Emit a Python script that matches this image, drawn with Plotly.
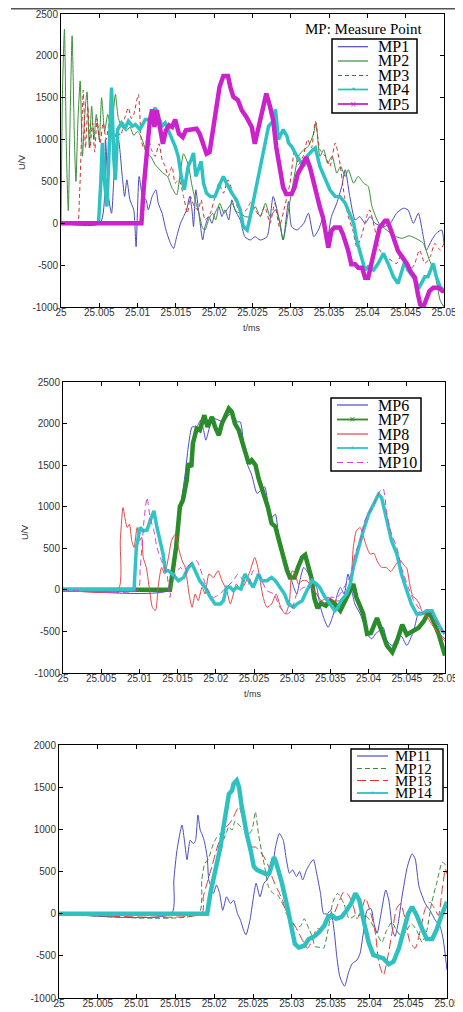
import plotly.graph_objects as go

PAGE_W, PAGE_H = 463, 1012
BODY_MARGIN = 8                      # default page margin around the figure
W, H = PAGE_W - BODY_MARGIN, PAGE_H - BODY_MARGIN
T0 = 25.0  # ms, start of the time axis

# ---------------- data: (time offset in microseconds after 25 ms, voltage V) ----------------
mp1 = [(0,0),(5.1,0),(5.8,1000),(6.2,320),(6.6,120),(7.0,680),(7.5,1000),(8.0,560),(8.3,320),(8.6,520),
       (9.0,280),(9.5,160),(9.8,-280),(10.2,560),(10.65,320),(11.1,280),(11.4,160),(11.9,320),(12.4,400),(12.7,240),
       (13.2,120),(13.7,-80),(14.3,-240),(14.7,-300),(15.1,-160),(15.6,0),(16.0,80),(16.4,160),(16.8,320),(17.1,160),
       (17.3,-40),(17.6,400),(18.0,120),(18.5,-200),(18.8,-40),(19.3,80),(19.7,0),(20.1,120),(20.6,200),(21.0,80),
       (21.4,160),(21.9,40),(22.3,280),(22.7,160),(23.4,40),(24.0,-160),(24.7,-200),(25.35,-160),(26.0,-200),(26.9,-160),
       (27.7,320),(28.4,80),(29.0,-200),(29.7,260),(30.1,-40),(30.8,-80),(31.7,0),(32.3,120),(33.0,-160),(33.6,-80),
       (34.3,80),(34.8,-160),(35.3,80),(36.0,240),(36.65,440),(37.1,640),(37.7,320),(38.4,40),(39.0,80),(39.7,0),
       (40.35,80),(41.0,0),(42.1,-40),(43.0,0),(43.8,120),(44.7,180),(45.3,160),(46.0,0),(46.65,120),(47.3,-160),
       (47.7,-320),(48.4,-200),(49.0,-120),(49.7,-80),(50.0,-240)]
mp2 = [(0,0),(0.2,1600),(0.45,2320),(0.7,900),(0.95,150),(1.2,1300),(1.45,2240),(1.75,1000),(1.95,500),(2.2,1200),
       (2.5,1700),(2.8,800),(3.1,1300),(3.4,1570),(3.7,900),(4.0,1400),(4.3,1000),(4.6,1300),(5.0,1000),(5.3,1500),
       (5.7,1100),(6.1,1300),(6.5,1150),(6.8,1300),(7.1,1540),(7.5,1250),(8.0,1150),(8.5,1100),(9.0,1150),(9.5,1050),
       (10.0,1100),(10.6,1000),(11.2,840),(11.7,800),(12.3,700),(12.8,650),(13.3,600),(13.9,560),(14.5,420),(15.1,340),
       (15.5,550),(16.0,830),(16.6,700),(17.1,450),(17.6,250),(18.0,120),(18.5,-60),(18.8,-80),(19.3,50),(19.8,120),
       (20.2,40),(20.7,240),(21.3,120),(21.8,180),(22.3,240),(22.9,140),(23.5,120),(24.0,80),(24.6,80),(25.35,200),
       (26.0,80),(26.7,240),(27.3,80),(28.0,160),(28.6,0),(29.0,-200),(29.7,160),(30.3,480),(31.0,800),(31.7,880),
       (32.3,920),(33.0,1080),(33.3,1200),(33.8,800),(34.3,880),(34.8,720),(35.4,800),(36.0,600),(36.5,680),(37.1,560),
       (37.5,640),(38.2,480),(38.8,560),(39.5,480),(40.1,440),(40.6,200),(41.5,0),(42.5,-80),(43.5,-150),(44.5,-180),
       (45.5,-150),(46.7,-200),(47.3,-240),(48.1,-440),(48.8,-600),(49.5,-920),(50.0,-1000)]
mp3 = [(0,0),(2.1,0),(2.4,300),(2.7,1100),(2.9,1590),(3.2,900),(3.5,1400),(3.8,900),(4.1,1200),(4.4,850),
       (4.7,1250),(5.1,950),(5.5,1200),(5.9,1000),(6.4,1250),(6.9,950),(7.3,1100),(7.8,1050),(8.3,1250),(8.8,1380),
       (9.2,1250),(9.5,1300),(10.1,1540),(10.5,980),(10.9,880),(11.3,1050),(11.8,880),(12.3,800),(12.8,950),(13.2,760),
       (13.6,680),(14.0,560),(14.5,680),(14.9,480),(15.4,520),(16.0,320),(16.5,120),(16.9,320),(17.4,200),(17.9,160),
       (18.3,280),(18.8,40),(19.5,120),(20.1,320),(20.6,480),(21.2,360),(21.8,520),(22.3,400),(23.0,200),(23.6,120),
       (24.2,160),(24.8,250),(25.35,160),(26.0,80),(26.6,200),(27.3,0),(27.9,240),(28.5,-40),(29.1,160),(29.9,480),
       (30.5,880),(31.0,700),(31.6,800),(32.2,1000),(32.7,900),(33.2,1220),(33.8,880),(34.5,800),(35.1,680),(35.8,960),
       (36.4,720),(37.0,320),(37.5,80),(38.1,-80),(38.6,-280),(39.2,-160),(39.9,80),(40.3,160),(40.9,-40),(41.6,-320),
       (42.5,-400),(43.8,-480),(44.5,-360),(45.4,-560),(46.1,-500),(46.8,-320),(47.5,-480),(48.2,-400),(48.8,-240),(49.5,-320),
       (50.0,-240)]
mp4 = [(0,0),(4.9,0),(5.2,500),(5.4,960),(5.7,480),(6.0,200),(6.2,680),(6.6,1620),(6.9,760),(7.1,520),
       (7.4,1120),(7.9,1200),(8.4,1140),(8.8,1220),(9.3,1160),(9.7,1180),(10.3,1120),(11.0,1240),(11.7,1240),(12.3,1380),
       (12.7,1280),(13.2,1160),(13.6,1200),(14.3,1040),(14.9,920),(15.3,800),(15.7,560),(16.1,400),(16.6,680),(17.0,760),
       (17.3,840),(17.6,560),(18.0,680),(18.3,740),(18.6,480),(19.0,360),(19.5,320),(20.1,320),(20.8,480),(21.2,560),
       (21.6,480),(22.3,360),(22.9,280),(23.4,160),(23.8,-40),(24.3,-80),(24.7,80),(25.5,440),(26.4,880),(27.1,1160),
       (27.7,1220),(28.0,1360),(28.4,1000),(29.0,1120),(29.5,1040),(29.7,960),(30.1,920),(30.8,800),(31.7,680),(32.1,800),
       (32.7,860),(33.2,900),(33.8,680),(34.5,520),(35.1,400),(35.8,320),(36.4,320),(37.1,240),(37.7,120),(38.2,0),
       (38.6,-200),(39.1,-360),(39.7,-560),(40.1,-520),(40.8,-560),(41.4,-480),(42.1,-360),(42.7,-480),(43.4,-640),(44.0,-720),
       (44.9,-450),(45.3,-560),(46.0,-640),(46.4,-720),(46.8,-760),(47.5,-640),(47.9,-640),(48.6,-480),(49.0,-640),(49.5,-760),
       (50.0,-800)]
mp5 = [(0,0),(10.5,0),(10.8,430),(11.2,790),(11.6,1230),(11.9,1360),(12.2,1150),(12.5,1350),(12.9,1110),(13.3,950),
       (13.7,1110),(14.1,1170),(14.5,1150),(14.9,1240),(15.4,1070),(15.9,1030),(16.3,1110),(16.9,1120),(17.7,1130),(18.1,1070),
       (18.6,950),(19.0,830),(19.4,850),(19.9,1150),(20.3,1350),(20.7,1630),(21.2,1760),(21.8,1760),(22.1,1630),(22.5,1510),
       (23.1,1470),(23.6,1350),(24.2,1270),(24.9,1150),(25.3,950),(25.7,1110),(26.4,1390),(26.8,1550),(27.3,1390),(27.7,1230),
       (28.1,910),(28.6,670),(29.0,430),(29.4,350),(30.1,350),(30.5,430),(30.9,590),(31.4,670),(31.8,750),(32.0,790),
       (32.5,670),(32.9,510),(33.3,350),(33.8,190),(34.2,70),(34.6,-130),(34.9,-290),(35.3,-90),(35.7,-50),(36.4,-50),
       (36.8,-130),(37.5,-330),(37.9,-490),(38.4,-490),(38.8,-530),(39.3,-530),(39.7,-650),(40.1,-650),(40.5,-490),(41.0,-250),
       (41.6,-50),(42.3,30),(42.6,30),(43.1,-90),(43.5,-210),(44.0,-330),(44.6,-410),(45.2,-490),(45.6,-570),(46.2,-650),
       (46.6,-850),(46.9,-970),(47.3,-1000),(47.7,-900),(48.1,-810),(48.6,-770),(49.3,-770),(49.8,-810),(50.0,-810)]

mp6 = [(0,0),(14.0,0),(14.4,350),(15.1,750),(15.5,1070),(16.0,1400),(16.4,1720),(16.9,1960),(17.5,1960),(18.0,2040),
       (18.4,1920),(18.7,1800),(19.2,1960),(19.7,2060),(20.4,2040),(21.0,2020),(21.5,2080),(21.9,2120),(22.3,2100),(22.8,2020),
       (23.2,2020),(23.6,1800),(24.1,1520),(24.7,1380),(25.4,1160),(25.9,1200),(26.4,1240),(26.9,1000),(27.3,870),(27.8,910),
       (28.2,670),(28.9,430),(29.3,310),(29.7,190),(30.2,30),(30.6,-50),(31.0,110),(31.5,270),(31.9,230),(32.6,110),
       (33.2,30),(33.6,-170),(34.1,-330),(34.7,-450),(35.4,-290),(35.8,-90),(36.3,30),(36.8,-50),(37.3,190),(37.8,-10),
       (38.2,-170),(38.9,-290),(39.4,-410),(39.8,-530),(40.4,-590),(40.9,-530),(41.4,-490),(41.9,-450),(42.4,-610),(43.1,-670),
       (43.7,-580),(44.3,-560),(45.0,-670),(45.9,-490),(46.6,-265),(47.2,-290),(47.8,-250),(48.4,-330),(49.1,-500),(50.0,-590)]
mp7 = [(0,0),(14.0,0),(14.4,250),(14.8,510),(15.3,1000),(15.7,1080),(16.2,1320),(16.4,1520),(16.8,1480),(17.0,1760),
       (17.5,1940),(17.9,1920),(18.5,2100),(18.9,1960),(19.5,2080),(19.9,1960),(20.4,1860),(20.8,2000),(21.2,2080),(21.7,2180),
       (22.1,2140),(22.5,2000),(23.0,1920),(23.4,1800),(23.8,1640),(24.3,1520),(24.7,1560),(25.2,1500),(25.6,1340),(26.2,1160),
       (26.8,1000),(27.3,800),(27.8,760),(28.2,620),(28.7,420),(29.3,240),(29.7,150),(30.3,150),(30.8,280),(31.3,390),
       (31.7,420),(32.1,300),(32.5,150),(32.9,-100),(33.3,-220),(33.8,-160),(34.4,-190),(35.0,-130),(35.6,-170),(36.3,-250),
       (37.1,-90),(38.0,70),(38.4,-90),(39.3,-290),(39.8,-530),(40.3,-520),(41.1,-340),(41.8,-520),(42.4,-670),(43.1,-750),
       (43.7,-620),(44.4,-420),(45.0,-540),(45.7,-500),(46.5,-460),(47.2,-380),(47.9,-260),(48.5,-380),(49.2,-540),(50.0,-790)]
mp8 = [(0,0),(7.2,0),(7.5,590),(7.85,990),(8.1,870),(8.4,750),(8.7,790),(9.0,590),(9.3,510),(9.7,750),
       (10.0,590),(10.3,630),(10.5,390),(10.9,270),(11.4,-50),(11.7,-210),(12.1,-250),(12.5,70),(12.9,270),(13.3,190),
       (13.8,390),(14.2,590),(14.7,670),(15.1,510),(15.6,350),(16.0,270),(16.5,-50),(16.9,-210),(17.3,-50),(17.7,-130),
       (18.2,30),(18.6,-50),(19.1,190),(19.7,150),(20.3,230),(20.8,110),(21.4,0),(21.9,-170),(22.3,-50),(22.7,70),
       (23.2,0),(23.8,70),(24.5,230),(25.1,390),(25.5,270),(26.2,-90),(26.7,-210),(27.3,-170),(27.9,-50),(28.5,-210),
       (29.1,-290),(29.6,-170),(30.0,230),(30.4,190),(30.8,70),(31.3,110),(31.9,110),(32.6,30),(33.2,-50),(33.8,-130),
       (34.7,-90),(35.5,-130),(36.4,-130),(37.3,-50),(37.7,110),(38.0,510),(38.4,710),(38.9,750),(39.3,650),(39.7,530),
       (40.2,430),(40.7,440),(41.1,350),(41.7,270),(42.3,270),(42.9,220),(43.6,310),(44.1,360),(44.6,300),(45.0,260),
       (45.4,60),(45.8,-80),(46.1,-100),(46.6,-160),(47.0,-260),(47.7,-330),(48.3,-420),(49.0,-500),(50.0,-620)]
mp9 = [(0,0),(9.3,0),(9.6,510),(10.1,750),(10.5,710),(11.0,720),(11.4,830),(11.9,950),(12.3,750),(12.7,590),
       (13.1,430),(13.4,230),(13.8,230),(14.3,190),(14.7,150),(15.1,110),(15.8,150),(16.4,270),(16.9,310),(17.3,230),
       (17.9,110),(18.6,30),(19.3,-90),(19.9,-170),(20.6,-170),(21.0,-130),(21.4,30),(21.9,30),(22.3,-10),(22.7,30),
       (23.3,10),(23.8,190),(24.3,110),(24.9,30),(25.6,190),(26.0,110),(26.7,110),(27.3,150),(27.8,110),(28.4,30),
       (29.0,-50),(29.5,-170),(30.2,-210),(30.6,-170),(31.3,-130),(31.7,-50),(32.1,30),(32.6,110),(33.2,70),(33.6,30),
       (34.3,-90),(34.9,-170),(35.6,-250),(36.0,-210),(36.4,-130),(37.1,-50),(37.6,70),(38.0,270),(38.7,510),(39.3,710),
       (40.0,910),(40.6,1030),(41.3,1150),(41.7,1110),(42.4,830),(43.0,590),(43.7,430),(44.3,190),(45.0,-10),(45.6,-170),
       (46.3,-290),(46.9,-290),(47.6,-250),(48.3,-250),(48.9,-370),(49.6,-490),(50.0,-530)]
mp10 = [(0,0),(9.8,0),(10.1,250),(10.6,830),(11.0,1110),(11.4,870),(11.9,710),(12.3,510),(12.9,350),(13.6,190),
        (14.0,-90),(14.3,110),(14.7,190),(15.4,270),(16.0,190),(16.6,310),(17.5,350),(18.2,190),(18.8,30),(19.7,-90),
        (20.5,-50),(21.4,30),(22.3,110),(22.9,190),(23.6,110),(24.3,70),(24.9,230),(25.8,150),(26.7,-10),(27.6,-50),
        (28.4,-210),(29.3,-290),(29.9,-250),(30.6,-50),(31.5,30),(32.4,30),(33.2,-50),(34.1,-170),(35.0,-90),(35.9,-90),
        (36.8,30),(37.7,190),(38.2,430),(38.9,590),(39.5,830),(40.2,950),(40.9,1070),(41.5,1190),(41.9,1220),(42.4,910),
        (43.0,670),(43.7,510),(44.3,270),(45.2,30),(45.9,-130),(46.5,-210),(47.2,-290),(47.8,-250),(48.5,-330),(49.4,-450),
        (50.0,-530)]

mp11 = [(0,0),(14.5,0),(14.8,400),(15.2,750),(15.85,1050),(16.2,840),(16.5,640),(16.9,870),(17.3,830),(17.6,870),
        (17.9,1170),(18.2,990),(18.4,950),(18.7,870),(19.1,670),(19.3,400),(19.6,320),(19.9,240),(20.3,340),(20.7,240),
        (21.1,40),(21.6,200),(22.1,120),(22.5,160),(23.0,0),(23.4,-80),(23.8,-200),(24.1,-250),(24.6,-80),(25.0,160),
        (25.4,360),(25.9,200),(26.4,360),(26.8,400),(27.5,550),(27.9,790),(28.4,950),(28.9,870),(29.3,640),(29.7,480),
        (30.1,520),(30.6,440),(31.0,500),(31.4,400),(31.9,520),(32.4,600),(32.8,640),(33.2,480),(33.7,240),(34.1,0),
        (34.6,0),(35.0,40),(35.5,-240),(35.8,-510),(36.2,-750),(36.8,-860),(37.3,-700),(37.8,-590),(38.4,-550),(38.8,-470),
        (39.2,-240),(39.7,40),(40.2,60),(40.6,-120),(41.0,-230),(41.5,0),(42.1,280),(42.5,160),(43.0,-200),(43.3,-270),
        (43.7,-120),(44.2,200),(44.9,560),(45.5,710),(45.9,650),(46.4,320),(47.2,120),(47.8,40),(48.5,-80),(49.1,-150),
        (49.5,-300),(50.0,-670)]
mp12 = [(0,0),(18.0,0),(18.4,400),(18.8,600),(19.2,640),(19.9,830),(20.3,900),(20.8,950),(21.2,880),(21.9,1030),
        (22.3,990),(22.7,1100),(23.1,1060),(23.8,1000),(24.5,950),(24.9,1000),(25.3,1210),(25.7,950),(26.1,740),(26.5,560),
        (27.0,320),(27.6,240),(28.2,220),(28.9,100),(29.5,0),(30.0,-75),(30.4,-150),(31.1,-150),(31.6,-60),(32.2,-180),
        (32.6,-260),(33.0,-390),(33.7,-400),(34.1,-410),(34.7,-180),(35.3,140),(35.9,240),(36.7,120),(37.4,-60),(38.2,-20),
        (38.9,-20),(39.6,-30),(40.2,-100),(40.9,-220),(41.6,-340),(42.2,-200),(42.9,-100),(43.5,-200),(44.2,-270),(44.8,-200),
        (45.4,-120),(46.1,-200),(46.8,-340),(47.4,-200),(48.0,120),(48.7,375),(49.4,610),(50.0,560)]
mp13 = [(0,0),(18.4,0),(18.6,200),(19.2,400),(19.7,560),(20.4,790),(21.0,950),(21.6,1030),(22.3,1110),(22.7,1190),
        (23.2,1270),(23.5,1190),(24.0,1030),(24.5,870),(24.9,790),(25.3,790),(26.0,730),(26.4,675),(27.0,560),(27.6,400),
        (28.1,300),(28.8,160),(29.3,0),(29.9,-80),(30.5,-160),(31.3,-300),(32.0,-410),(32.6,-330),(33.2,-180),(33.9,-180),
        (34.5,-100),(35.2,-50),(35.9,100),(36.7,260),(37.3,220),(37.9,100),(38.4,-60),(39.0,50),(39.5,180),(40.2,0),
        (40.8,-250),(41.2,-570),(41.8,-730),(42.5,-450),(43.0,-180),(43.5,60),(44.0,120),(44.6,-60),(45.2,-330),(45.9,-410),
        (46.6,-180),(47.2,60),(47.8,140),(48.4,60),(48.9,-20),(49.4,300),(49.8,530),(50.0,470)]
mp14 = [(0,0),(19.1,0),(19.5,240),(19.9,400),(20.3,560),(20.8,790),(21.2,1030),(21.5,1230),(21.9,1420),(22.3,1460),
        (22.5,1540),(22.9,1580),(23.2,1500),(23.5,1300),(23.8,1110),(24.2,940),(24.7,750),(25.1,560),(25.5,520),(26.1,500),
        (26.7,470),(27.1,480),(27.7,670),(28.0,600),(28.7,375),(29.4,90),(30.0,-180),(30.4,-360),(30.9,-400),(31.6,-380),
        (32.2,-300),(32.9,-270),(33.5,-220),(34.2,-140),(34.7,-30),(35.2,-20),(35.7,-60),(36.4,-40),(37.0,30),(37.7,130),
        (38.2,240),(38.7,160),(39.3,-100),(39.9,-340),(40.5,-490),(41.2,-510),(41.8,-530),(42.5,-600),(43.1,-570),(43.8,-410),
        (44.4,-200),(45.0,0),(45.5,80),(46.1,-20),(46.8,-180),(47.4,-300),(48.1,-300),(48.7,-180),(49.3,-20),(50.0,140)]

# ---------------- axes ticks ----------------
x_tick_vals = [25.0, 25.005, 25.01, 25.015, 25.02, 25.025, 25.03, 25.035, 25.04, 25.045, 25.05]
x_tick_text = ["25", "25.005", "25.01", "25.015", "25.02", "25.025", "25.03", "25.035", "25.04", "25.045", "25.05"]
y_tick_vals_ab = [-1000, -500, 0, 500, 1000, 1500, 2000, 2500]
y_tick_text_ab = ["-1000", "-500", "0", "500", "1000", "1500", "2000", "2500"]
y_tick_vals_c = [-1000, -500, 0, 500, 1000, 1500, 2000]
y_tick_text_c = ["-1000", "-500", "0", "500", "1000", "1500", "2000"]

# series styling: name, data, panel, color, width, dash, shape, legend marker
series = [
    ("MP1", mp1, 1, "#4b4bb4", 1.0, "solid", "spline", None),
    ("MP2", mp2, 1, "#3a8f3a", 1.0, "solid", "spline", None),
    ("MP3", mp3, 1, "#c83232", 1.0, "4px,3px", "spline", None),
    ("MP4", mp4, 1, "#2fc2c2", 3.5, "solid", "linear", "•"),
    ("MP5", mp5, 1, "#cc22cc", 4.5, "solid", "linear", "×"),
    ("MP6", mp6, 2, "#4a4ad0", 1.0, "solid", "spline", None),
    ("MP7", mp7, 2, "#2a8c2a", 4.5, "solid", "linear", "×"),
    ("MP8", mp8, 2, "#e04848", 1.0, "solid", "spline", None),
    ("MP9", mp9, 2, "#30c4c4", 3.5, "solid", "linear", "•"),
    ("MP10", mp10, 2, "#cc44cc", 1.0, "6px,4px", "spline", None),
    ("MP11", mp11, 3, "#4b4bc0", 1.0, "solid", "spline", None),
    ("MP12", mp12, 3, "#3a8a3a", 1.0, "5px,3px", "spline", None),
    ("MP13", mp13, 3, "#d43a3a", 1.0, "9px,4px", "spline", None),
    ("MP14", mp14, 3, "#2fc0c0", 4.5, "solid", "linear", "•"),
]

# page-pixel layout of the three panels: (left, right, top, bottom)
panels = {1: (61, 444, 14, 307), 2: (63, 445, 382, 673), 3: (59, 447, 745, 998)}
yranges = {1: [-1000, 2500], 2: [-1000, 2500], 3: [-1000, 2000]}

def px(x):
    return (x - BODY_MARGIN) / W

def py(y):
    return 1 - (y - BODY_MARGIN) / H

fig = go.Figure()
for name, pts, p, color, width, dash, shape, mk in series:
    t = [T0 + u / 1000.0 for u, _ in pts]
    v = [val for _, val in pts]
    suffix = "" if p == 1 else str(p)
    fig.add_trace(go.Scatter(
        x=t, y=v, mode="lines", name=name, showlegend=False,
        xaxis="x" + suffix, yaxis="y" + suffix,
        line=dict(color=color, width=width, dash=dash, shape=shape,
                  smoothing=0.6 if shape == "spline" else None),
    ))

tickfont = dict(family="Liberation Sans, Arial, sans-serif", size=10, color="#333333")
layout = dict(width=W, height=H,
              margin=dict(l=0, r=0, t=0, b=0, pad=0, autoexpand=False),
              paper_bgcolor="white", plot_bgcolor="white", showlegend=False)
for p, (l, r, t, b) in panels.items():
    suffix = "" if p == 1 else str(p)
    layout["xaxis" + suffix] = dict(
        domain=[px(l), px(r)], anchor="y" + suffix, range=[25.0, 25.05], automargin=False,
        tickvals=x_tick_vals, ticktext=x_tick_text, ticks="inside", ticklen=4,
        tickcolor="black", showline=True, linecolor="black", linewidth=1, mirror="ticks",
        showgrid=False, zeroline=False, tickfont=tickfont, ticklabelstandoff=-4)
    yv = y_tick_vals_c if p == 3 else y_tick_vals_ab
    yt = y_tick_text_c if p == 3 else y_tick_text_ab
    layout["yaxis" + suffix] = dict(
        domain=[py(b), py(t)], anchor="x" + suffix, range=yranges[p], automargin=False,
        tickvals=yv, ticktext=yt, ticks="inside", ticklen=4,
        tickcolor="black", showline=True, linecolor="black", linewidth=1, mirror="ticks",
        showgrid=False, zeroline=False, tickfont=tickfont, ticklabelstandoff=0)
fig.update_layout(**layout)

shapes = []
annotations = []
serif = "Liberation Serif, Times New Roman, serif"

def note(x, y, text, font, xanchor="center", angle=0):
    annotations.append(dict(x=px(x), y=py(y), xref="paper", yref="paper", text=text,
                            showarrow=False, textangle=angle, xanchor=xanchor,
                            yanchor="middle", font=font))

# axis titles
small = dict(family="Liberation Sans, Arial, sans-serif", size=9, color="#333333")
note(22, 163, "U/V", small, angle=-90)
note(251, 328, "t/ms", small)
note(25, 533, "U/V", small, angle=-90)
note(252, 694, "t/ms", small)

# legends drawn as boxes: box, row centres, line sample, text start, font size
legend_boxes = {1: (332, 417, 39, 113, [46.7, 61, 75.5, 89.5, 104], 338, 368, 376, 16),
                2: (331, 421, 398, 471, [405, 419.5, 434, 448, 462.5], 337, 368, 376, 16),
                3: (351, 443, 749, 801, [756, 768.5, 780.5, 793], 357, 388, 393, 15)}
for p, (x0, x1, y0, y1, rows, lx0, lx1, tx, fs) in legend_boxes.items():
    shapes.append(dict(type="rect", xref="paper", yref="paper", x0=px(x0), x1=px(x1),
                       y0=py(y1), y1=py(y0), line=dict(color="black", width=1.5),
                       fillcolor="white", layer="above"))
    items = [s for s in series if s[2] == p]
    for (name, _, _, color, width, dash, _, mk), ry in zip(items, rows):
        lw = 1.2 if width <= 1.0 else 1.8
        shapes.append(dict(type="line", xref="paper", yref="paper", x0=px(lx0), x1=px(lx1),
                           y0=py(ry), y1=py(ry), line=dict(color=color, width=lw, dash=dash),
                           layer="above"))
        if mk:
            note((lx0 + lx1) / 2, ry, mk, dict(size=8, color=color, family="DejaVu Sans"))
        note(tx, ry, name, dict(family=serif, size=fs, color="black"), xanchor="left")

note(363.5, 29.5, "MP: Measure Point", dict(family=serif, size=15, color="black"))

# scanned page edge line at the very top
shapes.append(dict(type="line", xref="paper", yref="paper", x0=px(11), x1=1.0,
                   y0=py(8.8), y1=py(8.8), line=dict(color="#555555", width=1.5)))

fig.update_layout(shapes=shapes, annotations=annotations)
fig.write_html("out.html")
